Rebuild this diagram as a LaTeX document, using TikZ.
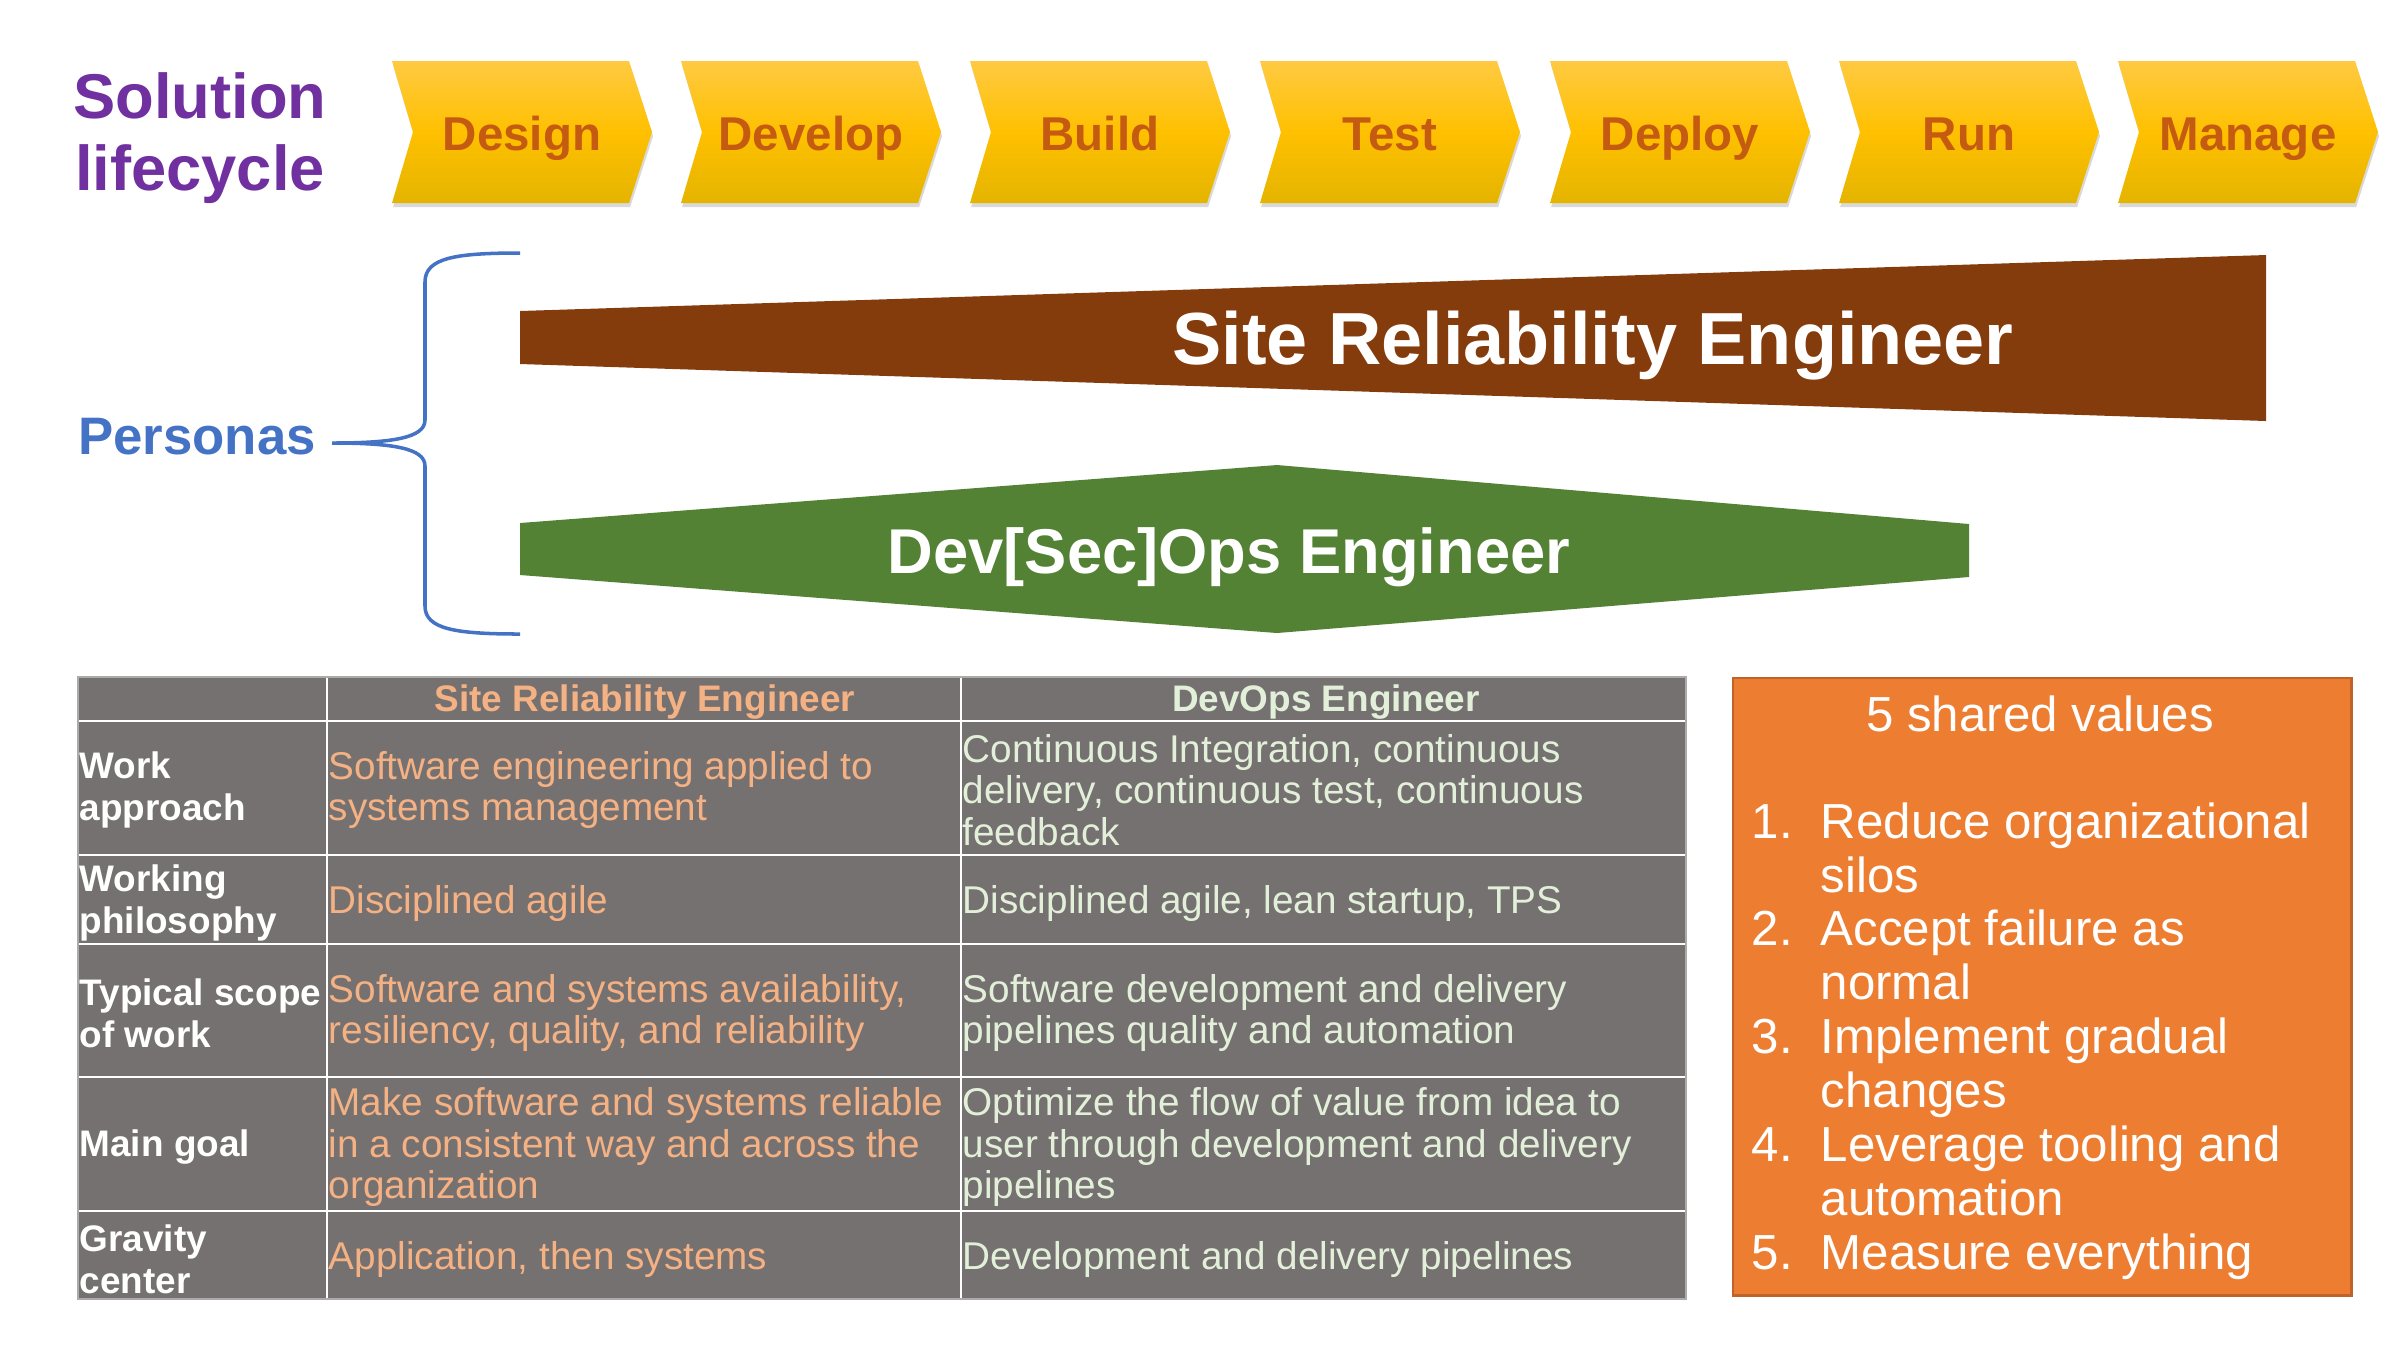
\documentclass[tikz,border=0pt]{standalone}
\usepackage{fontspec}
\setmainfont{Liberation Sans}
\usetikzlibrary{shadows}
\definecolor{lifepurple}{HTML}{7030A0}
\definecolor{personablue}{HTML}{4472C4}
\definecolor{chevtop}{HTML}{FFCA42}
\definecolor{chevmid}{HTML}{FFC000}
\definecolor{chevbot}{HTML}{E4B400}
\definecolor{chevtext}{HTML}{C55A11}
\definecolor{srebrown}{HTML}{843C0C}
\definecolor{devgreen}{HTML}{548235}
\definecolor{tablegray}{HTML}{767171}
\definecolor{sretext}{HTML}{F4B183}
\definecolor{devtext}{HTML}{E2F0D9}
\definecolor{valorange}{HTML}{ED7D31}
\definecolor{valborder}{HTML}{C0632A}
\def\srebar{(520,311) -- (2266,255) -- (2266,421) -- (520,364) -- cycle}
\def\devbar{(520,523) -- (1277,465) -- (1969,524) -- (1969,577) -- (1277,633) -- (520,575) -- cycle}
\tikzset{
  phase/.style={anchor=base, text=chevtext, font=\fontsize{13.5}{16}\selectfont\bfseries},
  cell/.style={anchor=west, align=left, inner sep=0pt, font=\fontsize{11}{11.9}\selectfont},
  rowhead/.style={cell, text=white, font=\fontsize{10.5}{11.9}\selectfont\bfseries},
  colhead/.style={anchor=base, inner sep=0pt, font=\fontsize{10.5}{12}\selectfont\bfseries},
}

\begin{document}
\begin{tikzpicture}[x=0.01cm, y=-0.01cm]
\useasboundingbox (0,0) rectangle (2400,1350);

\node[anchor=base, align=center, inner sep=0pt, text=lifepurple, font=\fontsize{18}{20.4}\selectfont\bfseries] (lifecycle) at (200,190) {Solution\\lifecycle};
\foreach \l/\name [count=\i] in {392/Design, 681/Develop, 970/Build, 1260/Test, 1550/Deploy, 1839/Run, 2118/Manage} {
  \path[drop shadow={opacity=0.3, shadow xshift=0.3pt, shadow yshift=-1.2pt}, top color=chevtop, bottom color=chevbot, middle color=chevmid]
    (\l,61) -- ++(237,0) -- ++(23,71) -- ++(-23,71) -- ++(-237,0) -- ++(21,-71) -- cycle;
  \node[phase] (phase\i) at (\l+130,150) {\name};
}

\node[anchor=base, inner sep=0pt, text=personablue, font=\fontsize{15}{18}\selectfont\bfseries] (personas) at (197,454) {Personas};
\draw[personablue, line width=1pt] (520,253) .. controls (455,253) and (425,258) .. (425,282) -- (425,420)
  .. controls (425,438) and (392,443) .. (332,443) .. controls (392,443) and (425,448) .. (425,466)
  -- (425,606) .. controls (425,629) and (455,634) .. (520,634);

\fill[srebrown] \srebar;
\node[anchor=base, text=white, font=\fontsize{21}{24}\selectfont\bfseries] (sre) at (1593,364) {Site Reliability Engineer};
\fill[devgreen] \devbar;
\node[anchor=base, text=white, font=\fontsize{18}{22}\selectfont\bfseries] (devsecops) at (1229,573) {Dev[Sec]Ops Engineer};

% comparison table
\fill[tablegray] (78,677) rectangle (1686,1299);
\foreach \y in {721,855,944,1077,1211} \draw[white, line width=0.7pt] (78,\y) -- (1686,\y);
\foreach \x in {327,961} \draw[white, line width=0.7pt] (\x,677) -- (\x,1299);
\draw[tablegray!60!white, line width=0.4pt] (78,677) rectangle (1686,1299);
\node[colhead, text=sretext] (hsre) at (645,711) {Site Reliability Engineer};
\node[colhead, text=devtext] (hdev) at (1326,711) {DevOps Engineer};
\foreach \y/\lab/\sre/\dev [count=\r] in {
  790/{Work\\approach}/{Software engineering applied to\\systems management}/{Continuous Integration, continuous\\delivery, continuous test, continuous\\feedback},
  903/{Working\\philosophy}/{Disciplined agile}/{Disciplined agile, lean startup, TPS},
  1013/{Typical scope\\of work}/{Software and systems availability,\\resiliency, quality, and reliability}/{Software development and delivery\\pipelines quality and automation},
  1147/{Main goal}/{Make software and systems reliable\\in a consistent way and across the\\organization}/{Optimize the flow of value from idea to\\user through development and delivery\\pipelines},
  1259/{Gravity\\center}/{Application, then systems}/{Development and delivery pipelines}} {
  \node[rowhead] (lab\r) at (79,\y) {\lab};
  \node[cell, text=sretext] (sre\r) at (328,\y) {\sre};
  \node[cell, text=devtext] (dev\r) at (962,\y) {\dev};
}

% shared values
\node[draw=valborder, fill=valorange, line width=0.7pt, minimum width=6.18cm, minimum height=6.17cm, anchor=north west] (values) at (1732,677) {};
\node[anchor=base, inner sep=0pt, text=white, font=\fontsize{14}{16}\selectfont] (vtitle) at (2040,731) {5 shared values};
\node[anchor=base west, inner sep=0pt, text=white, font=\fontsize{14}{15.35}\selectfont] (vlist) at (1751,838) {%
  \begin{tabular}[t]{@{}p{6.9mm}@{}l@{}}
  1. & Reduce organizational\\ & silos\\
  2. & Accept failure as\\ & normal\\
  3. & Implement gradual\\ & changes\\
  4. & Leverage tooling and\\ & automation\\
  5. & Measure everything
  \end{tabular}};
\end{tikzpicture}
\end{document}
